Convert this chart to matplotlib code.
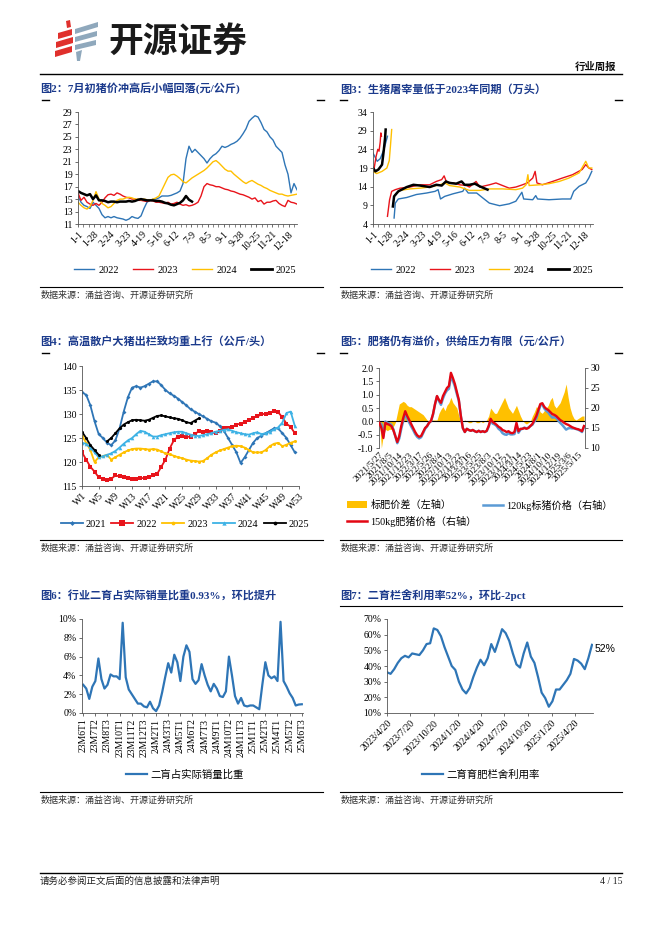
import numpy as np
import pandas as pd
import matplotlib
matplotlib.use('Agg')
import matplotlib.pyplot as plt
from matplotlib.lines import Line2D
from matplotlib.patches import Polygon, Patch
from matplotlib.ticker import FixedLocator

W, H = 662, 936
CJK = ['Noto Sans CJK SC', 'DejaVu Sans']
SERIF = ['Liberation Serif', 'Noto Sans CJK SC', 'DejaVu Sans']
TITLE_C = '#1B3A8C'
plt.rcParams['font.family'] = SERIF
plt.rcParams['axes.linewidth'] = 0.6

# ---------------- data: chart 2 (pig price, yuan/kg) ----------------
price_days = list(range(0, 366, 5))
price_2022 = [15.5, 14.5, 14.0, 13.8, 13.5, 14.5, 14.0, 13.5, 12.5, 12.0,
              12.2, 12.0, 12.2, 12.0, 11.9, 11.8, 11.6, 11.8, 12.2, 12.0,
              11.9, 12.3, 13.5, 14.5, 14.8, 15.0, 15.0, 15.2, 15.5, 15.5,
              15.5, 15.6, 15.8, 16.0, 16.3, 17.5, 21.5, 23.5, 22.5, 23.0,
              22.5, 22.0, 21.5, 20.8, 21.5, 22.0, 22.3, 22.8, 23.5, 23.3,
              23.5, 23.8, 24.0, 24.3, 24.8, 25.5, 26.3, 27.5, 28.0, 28.4,
              28.2, 27.3, 26.2, 25.8, 25.0, 24.5, 23.5, 23.0, 22.5, 20.5,
              19.0, 16.0, 17.5, 16.5]
price_2023 = [16.0, 14.8, 15.3, 14.5, 14.2, 14.0, 14.3, 14.0, 14.5, 15.2,
              15.7, 15.8, 15.6, 16.0, 15.8, 15.5, 15.3, 15.2, 15.0, 15.0,
              14.8, 14.8, 14.7, 14.6, 14.8, 14.7, 14.5, 14.5, 14.4, 14.3,
              14.5, 14.2, 14.3, 14.5, 14.2, 14.0, 14.1, 13.9, 14.0, 14.2,
              14.5, 15.5, 17.0, 17.5, 17.3, 17.2, 17.0, 17.0, 16.8, 16.6,
              16.5, 16.3, 16.2, 16.0, 15.8, 15.7, 15.5, 15.3, 15.0, 15.2,
              14.6, 14.8, 14.2, 14.5, 14.5, 14.7, 14.8, 14.3, 14.0, 13.8,
              14.8, 14.5, 14.4, 14.2]
price_2024 = [14.5, 14.0, 13.6, 13.4, 13.8, 14.8, 16.2, 15.0, 14.3, 14.0,
              13.6, 13.8, 14.3, 14.8, 15.0, 15.0, 15.2, 15.3, 15.2, 15.0,
              15.0, 14.9, 15.0, 14.9, 14.8, 15.0, 15.2, 15.5, 16.5, 17.5,
              18.5, 18.9, 19.0, 18.7, 18.3, 17.8, 17.6, 18.0, 18.4, 18.7,
              19.0, 19.3, 19.6, 20.0, 20.5, 21.0, 21.2, 20.8, 20.3, 19.8,
              19.5, 19.5, 19.0, 18.6, 18.2, 17.8, 17.5, 17.8, 18.0, 17.7,
              17.4, 17.2, 16.9, 16.7, 16.4, 16.2, 16.0, 15.8, 15.8, 15.6,
              15.5, 15.6, 15.7, 15.8]
price_2025 = [16.3, 16.0, 15.8, 15.6, 15.8, 15.0, 15.6, 14.8, 14.8, 14.7,
              14.5, 14.6, 14.6, 14.5, 14.6, 14.6, 14.6, 14.7, 14.6, 14.7,
              14.9, 15.0, 14.9, 14.8, 14.8, 14.8, 14.7, 14.7, 14.6, 14.4,
              14.3, 14.1, 14.0, 14.2, 14.4, 14.8, 15.5, 14.9, 14.6]
md_labels = ['1-1', '1-28', '2-24', '3-23', '4-19', '5-16', '6-12', '7-9',
             '8-5', '9-1', '9-28', '10-25', '11-21', '12-18']
md_tick_days = list(range(0, 352, 27))

# ---------------- data: chart 3 (slaughter volume, 10k head) ----------------
nan = np.nan
sl22_d = [0, 7, 12, 18, 24, 30, 35, 37, 42, 56, 72, 89, 103, 108, 112, 119, 133, 149, 152, 158,
          172, 182, 193, 210, 226, 237, 247, 250, 265, 270, 273, 292, 314, 328, 333, 342, 353, 358, 363]
sl22_v = [23.0, 20.8, 21.5, 23.9, 27.5, nan, 5.6, 9.6, 10.7, 11.1, 11.9, 12.3, 12.75, 13.2, 10.7, 11.4,
          12.1, 12.75, 13.6, 12.3, 12.3, 11.0, 9.6, 8.9, 9.4, 10.1, 12.5, 10.7, 10.5, 11.6, 10.7, 10.5,
          10.7, 10.7, 12.75, 14.1, 15.0, 16.3, 18.1]
sl23_d = [2, 5, 8, 10, 12, 13, 14, 20, 24, 27.5, 31, 37, 45, 61, 78, 94, 105, 114, 118, 122, 133, 144,
          155, 160, 171, 177, 193, 204, 215, 226, 237, 248, 256, 265, 269, 272, 281, 298, 314, 331,
          347, 353, 358, 363]
sl23_v = [19.0, 22.0, 24.0, 23.5, 26.0, 28.4, 27.5, nan, 6.05, 10.5, 12.75, 13.2, 13.6, 13.9, 14.5,
          14.5, 15.4, 15.9, 16.9, 15.2, 15.0, 14.5, 14.3, 13.9, 15.4, 13.9, 14.5, 15.0, 14.3, 13.6,
          13.9, 14.5, 15.0, 16.3, 18.1, 15.0, 14.5, 15.4, 16.3, 17.2, 18.6, 19.9, 19.0, 18.6]
sl24_d = [0, 6, 15, 23, 27, 29, 31, 34, 37, 45, 61, 78, 94, 111, 119, 127, 144, 160, 177, 193, 215,
          237, 248, 254, 257, 259, 276, 292, 309, 325, 342, 353, 358, 363]
sl24_v = [18.1, 17.5, 18.1, 19.0, 21.0, 25.0, 29.3, nan, 11.9, 13.0, 13.4, 13.6, 13.9, 14.5, 15.0,
          14.3, 13.9, 13.0, 13.0, 13.4, 13.4, 13.2, 13.6, 14.5, 17.2, 14.3, 14.5, 14.8, 15.4, 16.3,
          17.7, 20.8, 19.0, 19.0]
sl25_d = [0, 4, 9, 15, 18, 20, 21, 27, 33, 35, 42, 56, 67, 78, 94, 105, 114, 121, 127, 138, 147, 152,
          160, 169, 177, 190]
sl25_v = [19.0, 18.1, 18.6, 19.9, 23.9, 27.0, 29.3, nan, 8.7, 11.4, 12.75, 13.9, 14.5, 14.3, 13.9,
          14.5, 14.3, 15.4, 15.0, 14.8, 15.4, 14.5, 14.5, 14.8, 14.1, 13.2]

# ---------------- data: chart 4 (avg weight, kg/head) ----------------
weeks = list(range(1, 53))
wt_2021 = [134.5, 134, 131.8, 128.5, 125.8, 125, 124, 123.5, 124.5, 127,
           130.5, 133.5, 135.5, 135.8, 135.5, 135.8, 136.3, 136.8, 136.8, 136,
           135, 134.3, 133.8, 133.2, 132.5, 131.8, 131, 130.5, 130, 129.5,
           129, 128.5, 128.2, 127.5, 126.5, 125, 123.5, 122, 119.8, 121,
           122.5, 124, 125, 125.5, 126, 126.5, 127, 127, 126, 125, 123.5, 122]
wt_2022 = [122, 120.5, 119, 118, 116.8, 116.5, 116.3, 116.5, 117.2, 117,
           116.8, 116.6, 116.5, 116.5, 116.6, 116.7, 116.8, 117.2, 117.5, 119,
           120.5, 122.8, 124.5, 125.3, 125.5, 125.2, 125.3, 125.8, 126.4, 126.3,
           126.5, 126.2, 126, 126.5, 127, 127, 127.3, 127.8, 128, 128.3,
           128.8, 129.2, 129.5, 129.9, 130.1, 130.3, 130.6, 130.4, 129.3, 128, 127.3, 126]
wt_2023 = [125.5, 124, 122.5, 120, 121, 121.2, 121.5, 120.5, 121, 121.5,
           122, 122.4, 122.7, 122.8, 122.8, 122.7, 122.6, 122.7, 122.6, 122.2,
           121.8, 121.6, 121.3, 121, 120.8, 120.5, 120.3, 120.2, 120.1, 120.2,
           120.8, 121.5, 122, 122.4, 122.7, 123, 123.3, 123.4, 123.3, 123,
           122.5, 122, 122, 122, 122.5, 123.3, 123.8, 124, 123.3, 123.6, 124, 124.3]
wt_2024 = [124, 123.8, 123, 122, 121, 121.2, 121.5, 121.8, 122.3, 123,
           123.8, 124.5, 125, 125.8, 126.5, 126.3, 125.8, 125.3, 125.3, 125.6,
           125.8, 126, 126.2, 126.3, 126.3, 126, 125.7, 125.5, 125.4, 125.6,
           125.8, 126, 126.3, 126.5, 126.7, 126.8, 126.5, 126.2, 126, 125.8,
           125.7, 126, 126.2, 125.8, 126, 126.3, 126.8, 127.2, 128.2, 130.2, 130.5, 127.5]
wt_2025 = [126.3, 125, 123.5, 122.5, 121.5, nan, 124.3, 125, 126, 127,
           127.8, 128.3, 128.7, 128.8, 128.7, 128.6, 128.8, 129.2, 129.6, 129.7,
           129.5, 129.3, 129.1, 129, 128.7, 128.3, 128.1, 128.6, 129.1]
week_ticks = list(range(1, 54, 4))
week_labels = ['W%d' % w for w in week_ticks]

# ---------------- data: chart 5 (fat-pig premium) ----------------
premium = [0.1, -1.0, -0.5, -0.3, -0.35, -0.3, -0.3, -0.2, -0.05, 0.3,
           0.65, 0.7, 0.75, 0.7, 0.6, 0.55, 0.55, 0.5, 0.45, 0.4,
           0.35, 0.3, 0.25, 0.15, 0.05, 0.0, 0.05, 0.05, 0.05, 0.05,
           0.3, 0.45, 0.55, 0.4, 0.6, 0.7, 0.9, 0.7, 0.6, 0.5,
           0.2, 0.05, 0.0, 0.05, 0.0, -0.05, -0.05, 0.0, 0.0, -0.05,
           -0.05, 0.0, -0.05, 0.0, 0.05, 0.2, 0.5, 0.4, 0.3, 0.3,
           0.45, 0.6, 0.75, 0.9, 0.7, 0.5, 0.4, 0.3, 0.45, 0.6,
           0.4, 0.2, 0.05, -0.05, -0.1, -0.05, 0.0, 0.2, 0.35, 0.55,
           0.5, 0.35, 0.3, 0.4, 0.5, 0.6, 0.8, 0.9, 0.6, 0.5,
           0.6, 0.7, 0.9, 1.1, 1.4, 0.9, 0.5, 0.25, 0.1, 0.05,
           0.1, 0.15, 0.2, 0.2]
price_150 = [16.3, 15.0, 12.5, 16.3, 16.0, 15.8, 15.5, 14.5, 13.0, 11.5,
             13.0, 15.5, 17.5, 19.2, 18.0, 17.0, 16.0, 15.0, 14.0, 13.2,
             12.8, 13.0, 14.0, 15.0, 15.5, 16.3, 16.8, 18.5, 21.0, 23.0,
             22.0, 21.3, 23.0, 24.0, 25.0, 25.5, 28.8, 27.5, 26.0, 24.0,
             22.0, 18.0, 15.0, 14.0, 14.8, 14.5, 14.3, 14.5, 14.2, 14.0,
             14.3, 14.0, 14.2, 14.0, 14.3, 15.5, 17.3, 16.5, 16.2, 15.8,
             15.3, 15.0, 14.5, 14.3, 14.0, 14.2, 13.8, 13.7, 14.0, 16.3,
             14.2, 14.8, 14.8, 15.0, 14.8, 15.0, 15.5, 16.0, 17.0, 18.0,
             19.5, 21.0, 21.2, 20.3, 19.8, 19.5, 19.0, 18.5, 18.3, 18.0,
             17.5, 17.0, 16.7, 16.3, 16.0, 15.8, 15.5, 15.2, 15.0, 14.8,
             14.7, 14.5, 14.2, 15.5]
price_120 = [16.2, 16.0, 13.0, 16.6, 16.3, 16.1, 15.8, 14.7, 13.0, 11.2,
             12.4, 14.8, 16.8, 18.5, 17.4, 16.4, 15.4, 14.5, 13.5, 12.8,
             12.4, 12.7, 13.7, 14.8, 15.4, 16.3, 16.7, 18.4, 20.9, 22.9,
             21.7, 20.8, 22.4, 23.6, 24.4, 24.8, 27.9, 26.8, 25.4, 23.5,
             21.8, 18.0, 15.0, 14.0, 14.8, 14.5, 14.3, 14.5, 14.2, 14.0,
             14.3, 14.0, 14.2, 14.0, 14.2, 15.3, 16.8, 16.1, 15.9, 15.5,
             14.8, 14.4, 13.7, 13.4, 13.3, 13.7, 13.4, 13.4, 13.5, 15.7,
             13.8, 14.6, 14.8, 15.1, 14.9, 15.1, 15.5, 15.8, 16.6, 17.4,
             19.0, 20.6, 20.9, 19.9, 19.3, 18.9, 18.2, 17.6, 17.7, 17.5,
             16.9, 16.3, 15.8, 15.2, 14.6, 14.9, 15.0, 14.9, 14.9, 14.75,
             14.6, 14.35, 14.0, 15.3]
fat_labels = ['2021/5/27', '2021/8/5', '2021/10/14', '2021/12/23', '2022/3/17', '2022/5/26',
              '2022/8/4', '2022/10/13', '2022/12/22', '2023/3/16', '2023/5/25', '2023/8/3',
              '2023/10/12', '2023/12/21', '2024/3/14', '2024/5/23', '2024/8/1', '2024/10/10',
              '2024/12/19', '2025/3/6', '2025/5/15']

# ---------------- data: chart 6 (share of re-fattening sales, %) ----------------
resale_share = [3.0, 2.6, 1.5, 2.8, 3.4, 5.8, 3.6, 2.6, 3.0, 4.1,
                3.9, 3.9, 3.6, 9.6, 3.8, 2.5, 2.0, 1.5, 1.0, 1.0,
                0.7, 0.6, 1.2, 0.5, 0.2, 0.8, 2.2, 3.8, 5.3, 4.3,
                6.2, 5.4, 3.4, 6.0, 7.2, 6.5, 3.6, 3.1, 3.5, 5.2,
                4.0, 3.0, 2.3, 3.1, 2.6, 1.8, 1.7, 2.3, 6.0, 4.0,
                1.8, 1.0, 1.6, 0.8, 0.7, 0.8, 0.8, 0.6, 0.4, 3.0,
                5.4, 4.0, 3.7, 3.9, 3.4, 9.7, 3.4, 2.8, 2.1, 1.6,
                0.8, 0.9, 0.93]
period_labels = ['23M6T1', '23M7T2', '23M8T3', '23M10T1', '23M11T2', '23M12T3', '24M2T1',
                 '24M3T3', '24M5T1', '24M6T2', '24M7T3', '24M9T1', '24M10T2', '24M11T3',
                 '25M1T1', '25M2T3', '25M4T1', '25M5T2', '25M6T3']

# ---------------- data: chart 7 (pen utilisation, %) ----------------
util_start = '2023-04-20'
util_rate = [36, 35, 38, 42, 45, 46.5, 45.5, 48, 47.5, 47,
             50, 54, 54.5, 64, 63, 59, 52, 46, 40, 37.5,
             30, 25, 22.5, 26, 33, 39, 44, 40.5, 45, 54,
             49, 56, 63.5, 61, 56, 48, 41, 39, 48, 55,
             46, 42, 33, 23, 19.5, 14, 17.5, 25, 25, 28,
             31, 35, 44.5, 43.5, 41.5, 38, 45, 53.5]
util_ticks = ['2023/4/20', '2023/7/20', '2023/10/20', '2024/1/20', '2024/4/20',
              '2024/7/20', '2024/10/20', '2025/1/20', '2025/4/20']

C_BLUE = '#2E75B6'
C_RED = '#E8141B'
C_YEL = '#FFC000'
C_CYAN = '#3DB2E5'

fig = plt.figure(figsize=(W / 100, H / 100), dpi=100)


def add_ax(l, t, r, b):
    return fig.add_axes([l / W, 1 - b / H, (r - l) / W, (b - t) / H])


def ftext(x, y, s, **kw):
    fig.text(x / W, 1 - y / H, s, **kw)


def fline(x1, x2, y, lw=0.8, color='k'):
    fig.add_artist(Line2D([x1 / W, x2 / W], [1 - y / H, 1 - y / H], color=color, lw=lw,
                          transform=fig.transFigure))


def style(ax, bottom=True):
    for s in ['top', 'right']:
        ax.spines[s].set_visible(False)
    ax.spines['left'].set_color('#555555')
    ax.spines['bottom'].set_color('#555555')
    ax.spines['bottom'].set_visible(bottom)
    ax.tick_params(labelsize=7, length=2.5, width=0.6, color='#555555', pad=1.5)


def title(x, y, s):
    ftext(x, y, s, fontsize=8, fontweight='bold', color=TITLE_C, va='center', ha='left',
          family=SERIF)


def source(x1, x2, y):
    fline(x1, x2, y, lw=0.8)
    ftext(x1 + 1, y + 8, '数据来源：涌益咨询、开源证券研究所', fontsize=6.5, color='#333333',
          va='center', ha='left', family=CJK)


def dashes(xl, xr, y):
    fline(xl, xl + 7, y, lw=1.0)
    fline(xr - 7, xr, y, lw=1.0)


def flegend(ax, handles, labels, cx, cy, ncol, **kw):
    lg = ax.legend(handles, labels, loc='center', bbox_to_anchor=(cx / W, 1 - cy / H),
                   bbox_transform=fig.transFigure, ncol=ncol, frameon=False,
                   prop={'family': SERIF, 'size': 7.5}, **kw)
    return lg

# ---------------- header ----------------
reds = [[(66, 21), (70, 20), (71, 27), (67, 28)],
        [(58, 33), (72, 29), (72, 35), (58, 39)],
        [(56, 42), (73, 37), (73, 43), (56, 48)],
        [(55, 51), (72, 46), (72, 52), (55, 57)]]
greys = [[(75, 29), (98, 22), (98, 27), (75, 34)],
         [(75, 37), (97, 31), (97, 36), (75, 42)],
         [(75, 45), (96, 40), (96, 45), (75, 50)],
         [(76, 52), (82, 50), (80, 61), (77, 61)]]
for polys, col in [(reds, '#E0302C'), (greys, '#8FA8BC')]:
    for p in polys:
        fig.add_artist(Polygon([(x / W, 1 - y / H) for x, y in p], closed=True, color=col,
                               transform=fig.transFigure, lw=0))
ftext(108, 41, '开源证券', fontsize=25, fontweight='bold', color='#1a1a1a', va='center',
      ha='left', family=CJK)
ftext(616, 67, '行业周报', fontsize=7.5, fontweight='bold', color='#111111', va='center',
      ha='right', family=CJK)
fline(40, 622, 74, lw=1.0)

# ---------------- chart 2 ----------------
title(40, 89, '图2：7月初猪价冲高后小幅回落(元/公斤)')
dashes(42, 324, 100)
ax = add_ax(78, 112, 297, 224)
style(ax)
for vals, col, lw in [(price_2022, C_BLUE, 1.0), (price_2023, C_RED, 1.0),
                      (price_2024, C_YEL, 1.0), (price_2025, 'black', 1.8)]:
    ax.plot(price_days[:len(vals)], vals, color=col, lw=lw)
ax.set_xlim(0, 365)
ax.set_ylim(11, 29)
ax.set_yticks(range(11, 30, 2))
ax.set_xticks(md_tick_days)
ax.set_xticklabels(md_labels, rotation=45, ha='right', va='top', rotation_mode='anchor')
ax.xaxis.set_minor_locator(FixedLocator(list(range(0, 366, 9))))
ax.tick_params(which='minor', length=1.8, width=0.5, color='#555555')
hs = [Line2D([], [], color=c, lw=l) for c, l in [(C_BLUE, 1), (C_RED, 1), (C_YEL, 1), ('black', 2)]]
flegend(ax, hs, ['2022', '2023', '2024', '2025'], 185, 270, 4, handlelength=2.0,
        handletextpad=0.4, columnspacing=1.3)
source(40, 323, 287)

# ---------------- chart 3 ----------------
title(340, 89, '图3：生猪屠宰量低于2023年同期（万头）')
dashes(340, 622, 100)
ax = add_ax(373, 112, 593, 224)
style(ax)
for d, v, col, lw in [(sl22_d, sl22_v, C_BLUE, 1.0), (sl23_d, sl23_v, C_RED, 1.0),
                      (sl24_d, sl24_v, C_YEL, 1.0), (sl25_d, sl25_v, 'black', 1.8)]:
    ax.plot(d, np.array(v, dtype=float), color=col, lw=lw)
ax.set_xlim(0, 365)
ax.set_ylim(4, 34)
ax.set_yticks(range(4, 35, 5))
ax.set_xticks(md_tick_days)
ax.set_xticklabels(md_labels, rotation=45, ha='right', va='top', rotation_mode='anchor')
ax.xaxis.set_minor_locator(FixedLocator(list(range(0, 366, 9))))
ax.tick_params(which='minor', length=1.8, width=0.5, color='#555555')
flegend(ax, hs, ['2022', '2023', '2024', '2025'], 482, 270, 4, handlelength=2.0,
        handletextpad=0.4, columnspacing=1.3)
source(340, 622, 287)

# ---------------- chart 4 ----------------
title(40, 341, '图4：高温散户大猪出栏致均重上行（公斤/头）')
dashes(42, 324, 353)
ax = add_ax(82, 366, 299, 486)
style(ax)
series4 = [(wt_2021, C_BLUE, 'D', 2.0), (wt_2022, C_RED, 's', 3.2),
           (wt_2023, C_YEL, 'o', 2.2), (wt_2024, C_CYAN, '^', 2.6), (wt_2025, 'black', 'o', 2.2)]
for vals, col, mk, ms in series4:
    ax.plot(weeks[:len(vals)], vals, color=col, lw=1.3, marker=mk, ms=ms, mew=0)
ax.set_xlim(1, 53)
ax.set_ylim(115, 140)
ax.set_yticks(range(115, 141, 5))
ax.set_xticks(week_ticks)
ax.set_xticklabels(week_labels, rotation=45, ha='right', va='top', rotation_mode='anchor')
hs4 = [Line2D([], [], color=c, lw=1.3, marker=m, ms=s + 0.5, mew=0) for _, c, m, s in series4]
flegend(ax, hs4, ['2021', '2022', '2023', '2024', '2025'], 185, 524, 5, handlelength=2.1,
        handletextpad=0.3, columnspacing=0.5)
source(40, 323, 540)

# ---------------- chart 5 ----------------
title(340, 341, '图5：肥猪仍有溢价，供给压力有限（元/公斤）')
dashes(340, 622, 353)
ax = add_ax(379, 368, 585, 448)
style(ax, bottom=False)
k = list(range(len(premium)))
ax.fill_between(k, 0, premium, color=C_YEL, lw=0)
ax.axhline(0, color='black', lw=0.8)
ax.set_xlim(-0.2, 103.5)
ax.set_ylim(-1.0, 2.0)
ax.set_yticks([-1.0, -0.5, 0.0, 0.5, 1.0, 1.5, 2.0])
ax.set_yticklabels(['%.1f' % v for v in [-1.0, -0.5, 0.0, 0.5, 1.0, 1.5, 2.0]])
ax.set_xticks(list(range(0, 101, 5)))
ax.set_xticklabels(fat_labels, rotation=45, ha='right', va='top', rotation_mode='anchor',
                   fontsize=6.8)
ax.tick_params(axis='x', length=0, pad=2)
ax2 = ax.twinx()
ax2.spines['top'].set_visible(False)
ax2.spines['left'].set_visible(False)
ax2.spines['bottom'].set_visible(False)
ax2.spines['right'].set_color('#555555')
ax2.plot(k, price_120, color='#5B9BD5', lw=1.8)
ax2.plot(k, price_150, color='#E30613', lw=1.7)
ax2.set_ylim(10, 30)
ax2.set_yticks(range(10, 31, 5))
ax2.tick_params(labelsize=7, length=2.5, width=0.6, color='#555555', pad=1.5)
hA = [Patch(color=C_YEL, lw=0), Line2D([], [], color='#E30613', lw=1.8)]
ax.legend(hA, ['标肥价差（左轴）', '150kg肥猪价格（右轴）'], loc='upper left',
          bbox_to_anchor=(347 / W, 1 - 500 / H), bbox_transform=fig.transFigure, frameon=False,
          prop={'family': SERIF, 'size': 7.3}, handlelength=2.0, handletextpad=0.3,
          labelspacing=0.55, borderaxespad=0, borderpad=0)
ax2.legend([Line2D([], [], color='#5B9BD5', lw=1.8)], ['120kg标猪价格（右轴）'], loc='upper left',
           bbox_to_anchor=(483 / W, 1 - 500 / H), bbox_transform=fig.transFigure, frameon=False,
           prop={'family': SERIF, 'size': 7.3}, handlelength=2.0, handletextpad=0.3,
           borderaxespad=0, borderpad=0)
source(340, 622, 540)

# ---------------- chart 6 ----------------
title(40, 595, '图6：行业二育占实际销量比重0.93%，环比提升')
ax = add_ax(82, 619, 303, 713)
style(ax)
idx = list(range(len(resale_share)))
ax.plot(idx, resale_share, color=C_BLUE, lw=1.6)
ax.set_xlim(-0.4, 72.4)
ax.set_ylim(0, 10)
ax.set_yticks(range(0, 11, 2))
ax.set_yticklabels(['%d%%' % v for v in range(0, 11, 2)])
ax.set_xticks(idx[::4][:len(period_labels)])
ax.set_xticklabels(period_labels, rotation=90, ha='center', va='top')
flegend(ax, [Line2D([], [], color=C_BLUE, lw=1.6)], ['二肓占实际销量比重'], 185, 775, 1,
        handlelength=2.0, handletextpad=0.3)
source(40, 323, 792)

# ---------------- chart 7 ----------------
title(340, 595, '图7：二育栏舍利用率52%，环比-2pct')
fline(340, 622, 606, lw=0.8)
ax = add_ax(387, 619, 593, 713)
style(ax)
dates = pd.date_range(util_start, periods=len(util_rate), freq='14D')
ax.plot(dates, util_rate, color=C_BLUE, lw=1.6)
ax.set_xlim(pd.Timestamp('2023-04-20'), pd.Timestamp('2025-06-30'))
ax.set_ylim(10, 70)
ax.set_yticks(range(10, 71, 10))
ax.set_yticklabels(['%d%%' % v for v in range(10, 71, 10)])
ax.set_xticks([pd.Timestamp(s.replace('/', '-')) for s in util_ticks])
ax.set_xticklabels(util_ticks, rotation=45, ha='right', va='top', rotation_mode='anchor')
ax.annotate('52%', xy=(dates[-1], util_rate[-1]), xytext=(2, -3), textcoords='offset points',
            fontsize=7.5, family=['Liberation Sans'], ha='left', va='center')
flegend(ax, [Line2D([], [], color=C_BLUE, lw=1.6)], ['二育育肥栏舍利用率'], 481, 775, 1,
        handlelength=2.0, handletextpad=0.3)
source(340, 622, 792)

# ---------------- footer ----------------
fline(40, 622, 873, lw=1.0)
ftext(40, 881, '请务必参阅正文后面的信息披露和法律声明', fontsize=6.8, color='#222222',
      va='center', ha='left', family=CJK)
ftext(622, 881, '4 / 15', fontsize=7, color='#222222', va='center', ha='right', family=SERIF)

fig.savefig('out.png', dpi=100)
